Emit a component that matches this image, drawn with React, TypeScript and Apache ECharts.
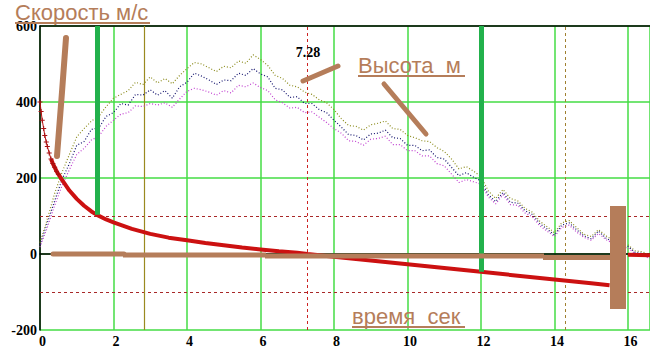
import React, { useEffect, useRef } from "react";
import * as echarts from "echarts";

// Height traces (m), sampled every 0.2 s from t = 0 to 16.6 s
const oliveH = [30, 92, 160, 215, 262, 308, 330, 350, 362, 388, 410, 420, 430, 452, 446, 466, 450, 462, 448, 470, 488, 504, 500, 490, 480, 494, 490, 508, 502, 524, 512, 496, 470, 462, 444, 440, 426, 420, 406, 398, 380, 356, 338, 336, 326, 340, 344, 350, 330, 328, 312, 306, 298, 296, 280, 270, 250, 224, 230, 218, 204, 166, 146, 170, 146, 140, 120, 110, 86, 72, 56, 82, 88, 70, 52, 46, 64, 48, 36, 26, 24, 8, 6, -4];
const navyH = [24, 82, 140, 196, 238, 286, 296, 328, 332, 362, 372, 396, 392, 420, 418, 432, 418, 430, 410, 440, 452, 476, 468, 458, 446, 458, 456, 476, 470, 488, 474, 466, 436, 432, 412, 414, 396, 396, 380, 372, 352, 334, 314, 312, 300, 316, 318, 326, 306, 304, 286, 286, 272, 274, 254, 250, 228, 206, 214, 202, 192, 156, 138, 162, 136, 134, 114, 104, 80, 66, 50, 76, 82, 64, 48, 40, 60, 42, 32, 22, 20, 4, 2, -8];
const magentaH = [18, 70, 128, 180, 222, 262, 278, 300, 310, 336, 352, 368, 372, 390, 388, 396, 392, 398, 386, 408, 428, 436, 432, 426, 418, 430, 424, 444, 440, 450, 438, 430, 406, 398, 384, 386, 372, 374, 360, 346, 330, 318, 298, 296, 286, 302, 304, 310, 288, 288, 272, 272, 258, 258, 238, 232, 210, 188, 196, 190, 184, 150, 132, 156, 130, 128, 108, 98, 74, 60, 46, 70, 76, 58, 44, 36, 54, 38, 28, 18, 16, 0, -4, -12];
const heightStep = 0.2;

// Speed (m/s)
const speedT = [0, 0.03, 0.06, 0.1, 0.13, 0.17, 0.2, 0.25, 0.3, 0.35, 0.4, 0.45, 0.5, 0.6, 0.8, 1.0, 1.2, 1.4, 1.55, 1.8, 2.0, 2.5, 3.0, 3.5, 4.0, 4.5, 5.0, 5.5, 6.0, 6.5, 7.0, 7.28, 8.0, 9.0, 10.0, 11.0, 12.0, 13.0, 14.0, 15.0, 15.5];
const speedV = [400, 375, 352, 330, 312, 295, 283, 266, 250, 238, 228, 218, 210, 195, 167, 145, 127, 112, 103, 91, 83, 66, 53, 43, 36, 29, 23, 17, 12, 7, 3, 0, -7, -17, -27, -37, -47, -57, -67, -77, -82];
const tailT = [16.0, 16.6];
const tailV = [-2, -3];

// Axes
const xMin = 0, xMax = 16.6, xStep = 2;
const yMin = -200, yMax = 600, yStep = 200;

// Reference lines
const guideLevels = [100, -100];
const oliveMarkT = 2.85;
const apexT = 7.28;
const endMarkT = 14.3;
const greenBarT = [1.55, 12];
const greenBarTop = 600;
const greenBarBottom = [103, -47];

const BROWN = "#b57d5a";
const SERIF = "'Liberation Serif', 'Times New Roman', serif";
const SANS = "'Liberation Sans', Arial, sans-serif";

export default function App() {
  const ref = useRef<HTMLDivElement>(null);
  useEffect(() => {
    if (!ref.current) return;
    const chart = echarts.init(ref.current, undefined, { renderer: "svg" });
    const tOf = (i: number) => Math.round(i * heightStep * 10) / 10;
    const pairs = (arr: number[]) => arr.map((v, i) => [tOf(i), v]);
    const speedPairs = speedT.map((t, i) => [t, speedV[i]]);
    const axisLabel = {
      color: "#000",
      fontFamily: SERIF,
      fontWeight: "bold" as const,
      fontSize: 14,
      lineHeight: 10,
    };
    const dotted = (color: string) => ({
      type: "line" as const,
      showSymbol: false,
      symbol: "none",
      lineStyle: { color, width: 1.2, type: [1, 2] as any },
      z: 3,
    });
    const brownLine = (x1: number, y1: number, x2: number, y2: number, w: number, cap = "butt") => ({
      type: "line",
      shape: { x1, y1, x2, y2 },
      style: { stroke: BROWN, lineWidth: w, lineCap: cap },
      z: 10,
    });
    const note = (text: string, x: number, y: number) => ({
      type: "text",
      x,
      y,
      style: {
        text,
        font: `22px ${SANS}`,
        lineHeight: 16,
        fill: BROWN,
        verticalAlign: "middle",
        textVerticalAlign: "middle",
      },
      z: 10,
    });
    chart.setOption({
      animation: false,
      grid: { left: 40, right: 0, top: 26, bottom: 22 },
      xAxis: [
        {
          type: "value",
          min: xMin,
          max: xMax,
          interval: xStep,
          axisLine: { lineStyle: { color: "#000", width: 1.5 } },
          axisTick: { show: false },
          axisLabel: { ...axisLabel, margin: 6, showMaxLabel: false, padding: [0, 0, 0, 5] },
          splitLine: { show: true, lineStyle: { color: "#44dd44", width: 1.5 } },
        },
        {
          type: "value",
          position: "top",
          min: xMin,
          max: xMax,
          axisLine: { show: true, lineStyle: { color: "#000", width: 1.5 } },
          axisTick: { show: false },
          axisLabel: { show: false },
          splitLine: { show: false },
        },
      ],
      yAxis: {
        type: "value",
        min: yMin,
        max: yMax,
        interval: yStep,
        axisLine: { show: true, lineStyle: { color: "#000", width: 1.5 } },
        axisTick: { show: false },
        axisLabel: { ...axisLabel, margin: 3 },
        splitLine: { show: true, lineStyle: { color: "#44dd44", width: 1.5 } },
      },
      series: [
        {
          ...dotted("#8c8c1e"),
          name: "olive",
          data: pairs(oliveH),
          markLine: {
            silent: true,
            symbol: ["none", "none"],
            label: { show: false },
            z: 1,
            data: [
              ...guideLevels.map((y) => ({ yAxis: y, lineStyle: { color: "#a82828", type: [3, 3], width: 1 } })),
              { xAxis: oliveMarkT, lineStyle: { color: "#9a8a20", type: "solid", width: 1.2 } },
              { xAxis: apexT, lineStyle: { color: "#cc2222", type: [3, 3], width: 1 } },
              { xAxis: endMarkT, lineStyle: { color: "#a08030", type: [3, 3], width: 1 } },
            ],
          },
        },
        { ...dotted("#14146e"), name: "navy", data: pairs(navyH) },
        { ...dotted("#c040d0"), name: "magenta", data: pairs(magentaH) },
        {
          type: "line",
          name: "speed",
          data: speedPairs.filter((p) => p[0] >= 0.3),
          showSymbol: false,
          symbol: "none",
          lineStyle: { color: "#cc1111", width: 4 },
          z: 4,
          markLine: {
            silent: true,
            symbol: ["none", "none"],
            label: { show: false },
            z: 6,
            lineStyle: { color: "#22b14c", width: 5, type: "solid" },
            data: greenBarT.map((t, i) => [
              { coord: [t, greenBarTop] },
              { coord: [t, greenBarBottom[i]] },
            ]),
          },
        },
        {
          type: "line",
          name: "speedStart",
          data: speedPairs.filter((p) => p[0] <= 0.5),
          symbol: "path://M4,0H6V4H10V6H6V10H4V6H0V4H4Z",
          symbolSize: 5,
          showSymbol: true,
          itemStyle: { color: "#a81010" },
          lineStyle: { color: "#b81010", width: 1 },
          z: 4,
        },
        {
          type: "line",
          name: "tail",
          data: tailT.map((t, i) => [t, tailV[i]]),
          showSymbol: false,
          symbol: "none",
          lineStyle: { color: "#cc1111", width: 4 },
          z: 4,
        },
      ],
      graphic: [
        note("Скорость м/с", 15, 12.6),
        brownLine(15, 23, 150, 23, 2),
        note("Высота  м", 358, 65.5),
        brownLine(358, 76, 465, 76, 2),
        note("время  сек", 352, 316.5),
        brownLine(352, 327, 465, 327, 2),
        { type: "text", x: 308, y: 52, style: { text: "7.28", font: `bold 14px ${SERIF}`, fill: "#000", align: "center", textAlign: "center", verticalAlign: "middle", textVerticalAlign: "middle" }, z: 10 },
        { type: "polyline", shape: { points: [[66, 38], [62, 92], [57, 156]] }, style: { stroke: BROWN, lineWidth: 6, lineCap: "round", fill: "none" }, z: 10 },
        brownLine(303, 81, 338, 66, 5, "round"),
        brownLine(384, 84, 426, 134, 5, "round"),
        brownLine(53, 254, 124, 254, 5, "round"),
        brownLine(123, 255, 266, 255, 5),
        brownLine(265, 256, 544, 256, 5),
        brownLine(543, 257.5, 612, 257.5, 5),
        { type: "rect", shape: { x: 610, y: 206, width: 16, height: 103 }, style: { fill: BROWN }, z: 10 },
      ],
    });
    return () => chart.dispose();
  }, []);
  return (
    <div
      ref={ref}
      style={{ position: "fixed", left: 0, top: 0, width: 650, height: 352, background: "#fff" }}
    />
  );
}
